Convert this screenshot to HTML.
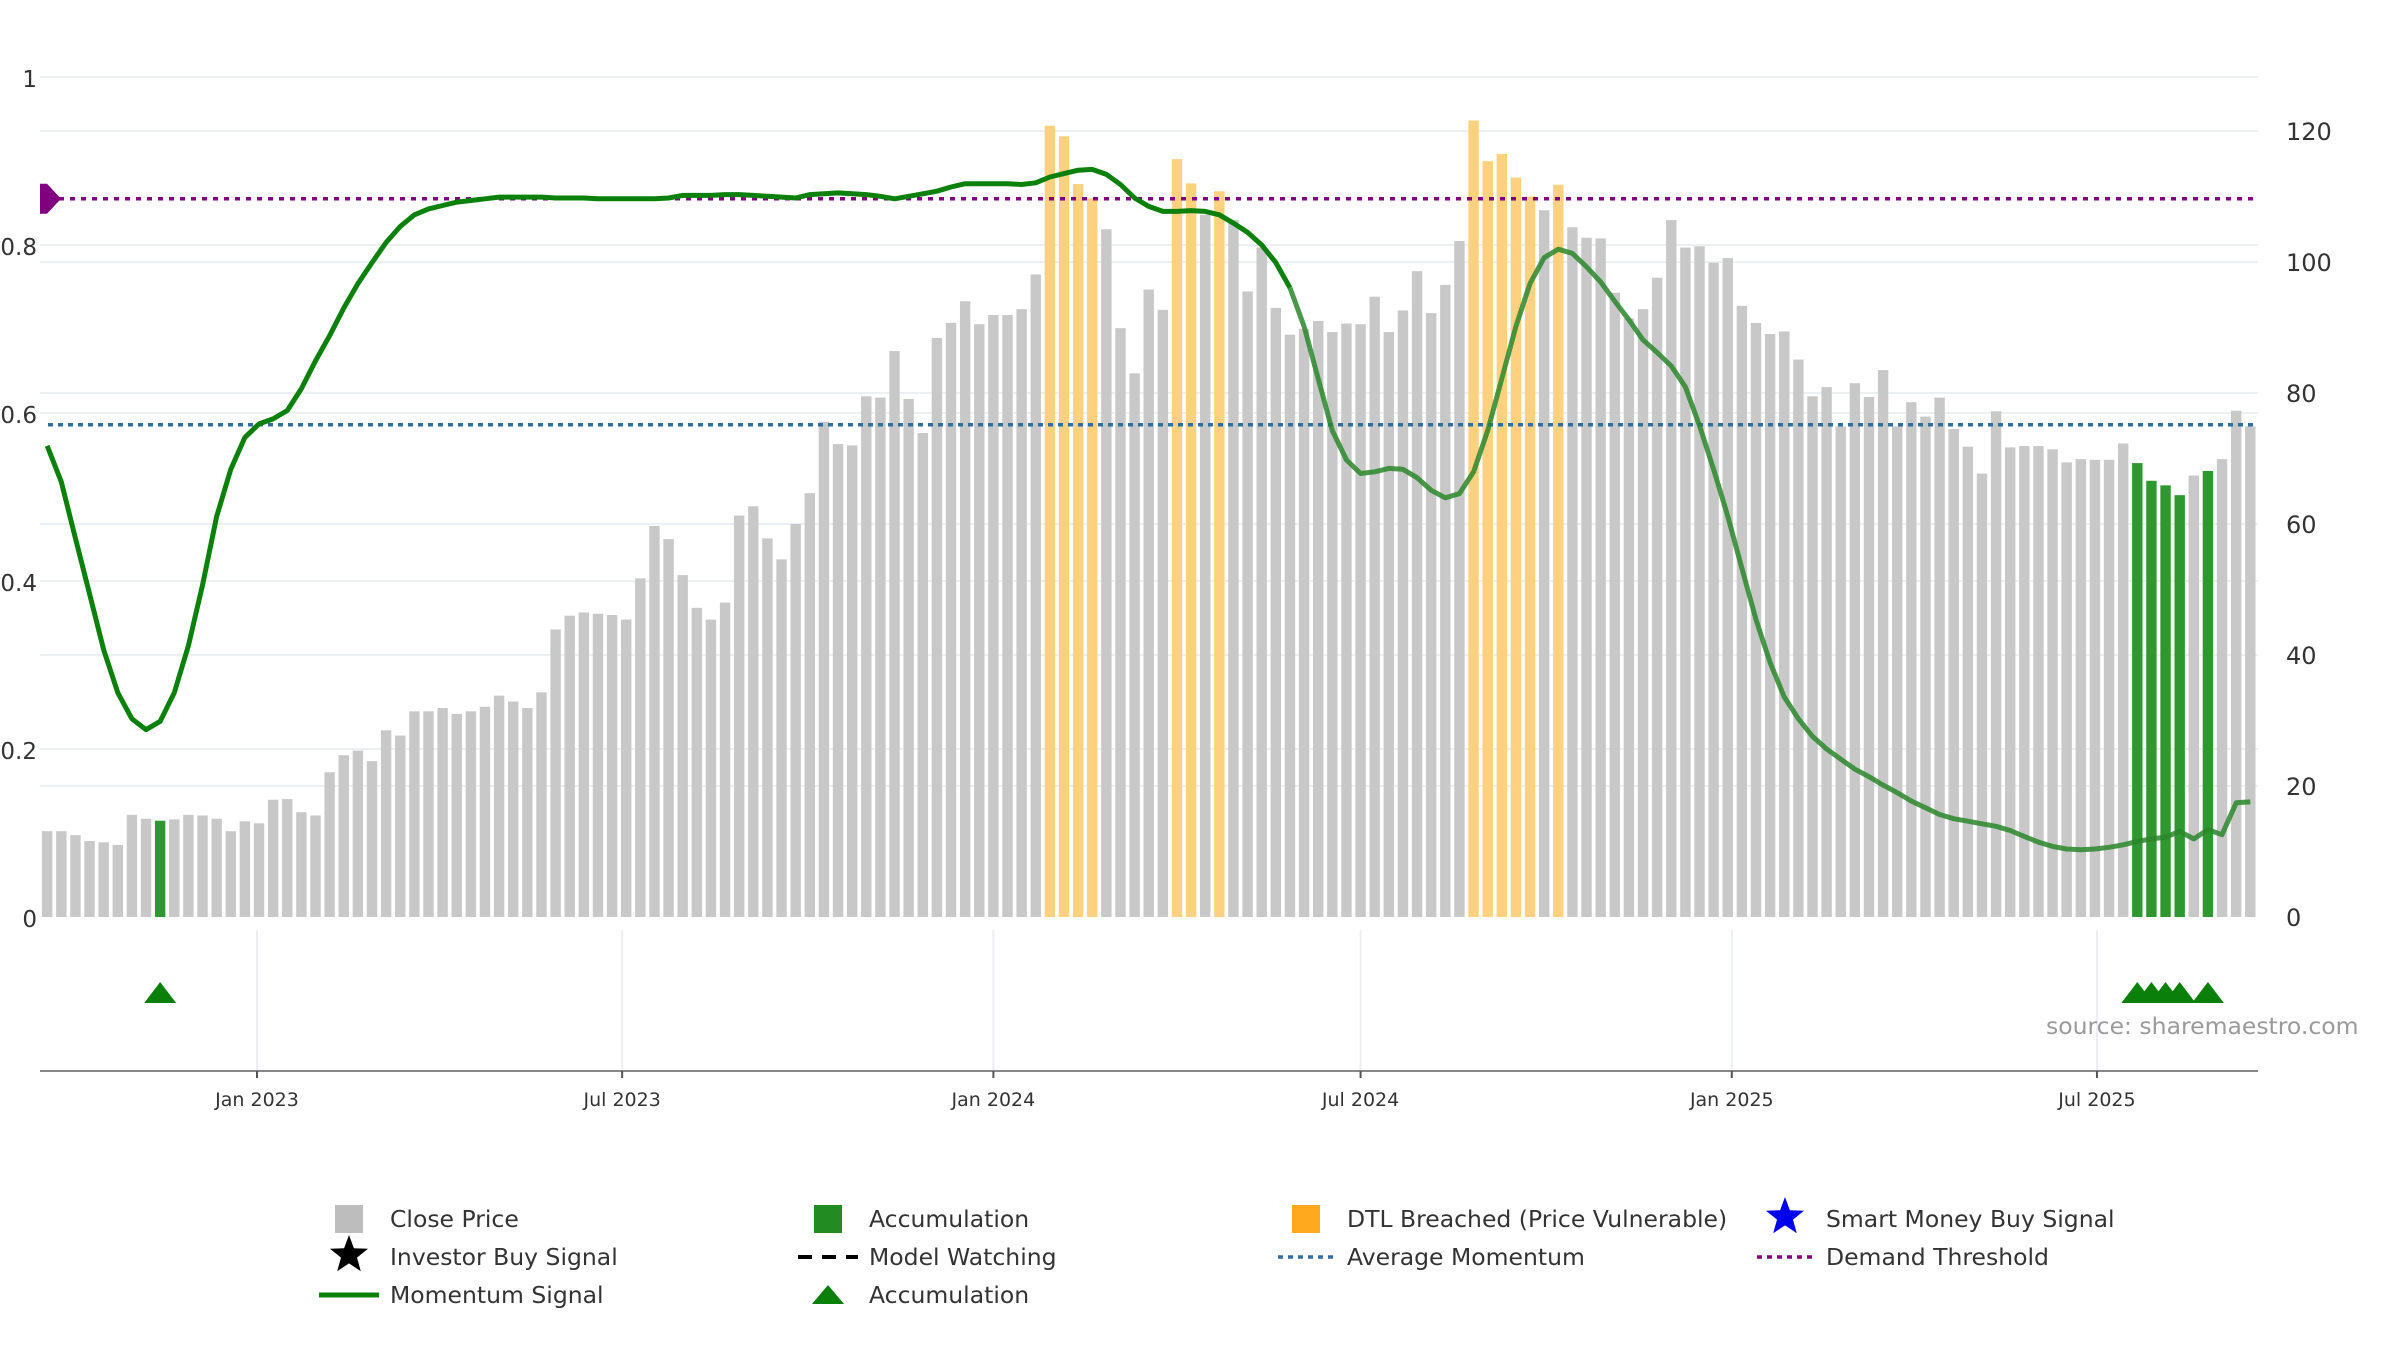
<!DOCTYPE html>
<html><head><meta charset="utf-8">
<style>
html,body{margin:0;padding:0;background:#fff;}
svg{display:block;font-family:"DejaVu Sans","Liberation Sans",sans-serif;}
</style></head>
<body>
<svg id="chart" width="2400" height="1350" viewBox="0 0 2400 1350" xmlns="http://www.w3.org/2000/svg">
<defs><clipPath id="plotclip"><rect x="40" y="60" width="2220" height="880"/></clipPath></defs>
<g id="grid"></g>
<g id="bars"></g>
<g id="lines" clip-path="url(#plotclip)"></g>
<g id="markers"></g>
<g id="axes"></g>
<text x="2046" y="1034" font-size="23.5" fill="#9a9a9a">source: sharemaestro.com</text>
<g id="legend"></g>
</svg>
<script>
// ---- data ----
const startDate = "2022-09-19";
const closePrices = [13.1,13.1,12.5,11.6,11.4,11.0,15.6,15.0,14.7,14.9,15.6,15.5,15.0,13.1,14.6,14.3,17.9,18.0,16.0,15.5,
22.1,24.7,25.4,23.8,28.5,27.7,31.4,31.4,31.9,31.0,31.4,32.1,33.8,32.9,31.9,34.3,43.9,46.0,46.5,46.3,
46.1,45.4,51.7,59.7,57.7,52.2,47.2,45.4,48.0,61.3,62.7,57.8,54.6,60.0,64.7,75.6,72.2,72.0,79.5,79.3,
86.4,79.1,73.9,88.4,90.7,94.0,90.5,91.9,91.9,92.8,98.1,120.8,119.2,111.9,109.7,105.0,89.9,83.0,95.8,92.7,
115.7,112.0,107.2,110.8,106.4,95.5,102.2,93.0,88.9,89.8,91.0,89.3,90.6,90.5,94.7,89.3,92.6,98.6,92.2,96.5,
103.2,121.6,115.4,116.5,112.9,110.0,107.9,111.8,105.3,103.7,103.6,95.3,91.4,92.8,97.6,106.4,102.2,102.4,99.9,100.6,
93.3,90.7,89.0,89.4,85.1,79.5,80.9,74.9,81.5,79.4,83.5,74.9,78.6,76.4,79.3,74.5,71.8,67.7,77.2,71.7,
71.9,71.9,71.4,69.4,69.9,69.8,69.8,72.3,69.3,66.6,65.9,64.4,67.4,68.1,69.9,77.3,74.9];
const dtlBreachedIdx = [71,72,73,74,80,81,83,101,102,103,104,105,107];
const accumulationIdx = [8,148,149,150,151,153];
const momentum = [0.561,0.518,0.451,0.385,0.318,0.267,0.236,0.223,0.233,0.267,0.323,0.395,0.477,0.533,0.571,0.587,0.593,0.603,0.629,0.662,
0.692,0.725,0.754,0.779,0.803,0.822,0.836,0.843,0.847,0.851,0.853,0.855,0.857,0.857,0.857,0.857,0.856,0.856,0.856,0.855,
0.855,0.855,0.855,0.855,0.856,0.859,0.859,0.859,0.860,0.860,0.859,0.858,0.857,0.856,0.860,0.861,0.862,0.861,0.860,0.858,
0.855,0.858,0.861,0.864,0.869,0.873,0.873,0.873,0.873,0.872,0.874,0.881,0.885,0.889,0.890,0.884,0.872,0.856,0.846,0.840,
0.840,0.841,0.840,0.836,0.826,0.815,0.800,0.779,0.749,0.703,0.641,0.579,0.544,0.528,0.530,0.534,0.533,0.523,0.508,0.499,
0.504,0.530,0.579,0.641,0.703,0.754,0.785,0.795,0.790,0.774,0.756,0.733,0.711,0.687,0.672,0.656,0.631,0.585,0.533,0.477,
0.415,0.354,0.303,0.262,0.236,0.215,0.200,0.188,0.176,0.167,0.157,0.148,0.138,0.130,0.122,0.117,0.114,0.111,0.108,0.103,
0.096,0.089,0.084,0.081,0.080,0.081,0.083,0.086,0.090,0.093,0.095,0.102,0.093,0.104,0.098,0.136,0.137];
const demandThreshold = 0.855;
const averageMomentum = 0.586;
const leftTicks = [0,0.2,0.4,0.6,0.8,1];
const leftTickLabels = ["0","0.2","0.4","0.6","0.8","1"];
const rightTicks = [0,20,40,60,80,100,120];
const xTickDates = ["2023-01-01","2023-07-01","2024-01-01","2024-07-01","2025-01-01","2025-07-01"];
const xTickLabels = ["Jan 2023","Jul 2023","Jan 2024","Jul 2024","Jan 2025","Jul 2025"];

// ---- scales ----
const NS="http://www.w3.org/2000/svg";
const DAY=86400000, REF=Date.parse("2023-01-01");
const PLOT_L=40, PLOT_R=2258, Y0=917, AXIS_Y=1071;
const xDate = d => 257 + (Date.parse(d)-REF)/DAY*2.0175;
const xBar = i => 257 + (Date.parse(startDate)+i*7*DAY-REF)/DAY*2.0175;
const yL = v => Y0 - v*840;
const yR = v => Y0 - v*6.55;
function el(tag, attrs, parent){const e=document.createElementNS(NS,tag);for(const k in attrs)e.setAttribute(k,attrs[k]);parent.appendChild(e);return e;}

const grid=document.getElementById('grid');
leftTicks.forEach(t=>{ if(t>0){const l=el('line',{x1:PLOT_L,x2:PLOT_R,y1:yL(t),y2:yL(t),stroke:'#edf0f3','stroke-width':2},grid);

}});
rightTicks.forEach(t=>{ if(t>0){const l=el('line',{x1:PLOT_L,x2:PLOT_R,y1:yR(t),y2:yR(t),stroke:'#edf0f3','stroke-width':2},grid);

}});
xTickDates.forEach(d=>{const l=el('line',{x1:xDate(d),x2:xDate(d),y1:930,y2:AXIS_Y,stroke:'#eceef1','stroke-width':2},grid);

});

const bars=document.getElementById('bars');
closePrices.forEach((v,i)=>{
  let fill='#c8c8c8', name='close-price-bar';
  if(dtlBreachedIdx.includes(i)){fill='#fdd17f';name='dtl-breached-bar';}
  if(accumulationIdx.includes(i)){fill='#2f972f';name='accumulation-bar';}
  const r=el('rect',{x:xBar(i)-5.2,y:yR(v),width:10.4,height:Y0-yR(v),fill:fill},bars);
  
  
});

const lines=document.getElementById('lines');
const dl=el('line',{x1:48,x2:PLOT_R,y1:yL(demandThreshold),y2:yL(demandThreshold),stroke:'#800080','stroke-width':3.5,'stroke-dasharray':'5 6'},lines);


const al=el('line',{x1:48,x2:PLOT_R,y1:yL(averageMomentum),y2:yL(averageMomentum),stroke:'#2f6f9f','stroke-width':3.5,'stroke-dasharray':'5 5'},lines);


const SPLIT=88;
const pts1=momentum.slice(0,SPLIT+1).map((v,i)=>xBar(i).toFixed(1)+','+yL(v).toFixed(1)).join(' ');
const pts2=momentum.slice(SPLIT).map((v,i)=>xBar(i+SPLIT).toFixed(1)+','+yL(v).toFixed(1)).join(' ');
const ml=el('polyline',{points:pts1,fill:'none',stroke:'#0b800b','stroke-width':5,'stroke-linejoin':'round'},lines);


const ml2=el('polyline',{points:pts2,fill:'none',stroke:'#2a862a','stroke-opacity':0.85,'stroke-width':5,'stroke-linejoin':'round'},lines);


const dy=yL(demandThreshold);
const dm=el('polygon',{points:`40,${dy-15} 47,${dy-15} 61,${dy} 47,${dy+15} 40,${dy+15}`,fill:'#800080'},lines);



const markers=document.getElementById('markers');
accumulationIdx.forEach(i=>{const x=xBar(i);
  const t=el('polygon',{points:`${x-16},1003 ${x},982 ${x+16},1003`,fill:'#0a800a'},markers);
  
  });

const axes=document.getElementById('axes');
const ax=el('line',{x1:PLOT_L,x2:PLOT_R,y1:AXIS_Y,y2:AXIS_Y,stroke:'#888','stroke-width':2},axes);


xTickDates.forEach((d,k)=>{const x=xDate(d);
  const tk=el('line',{x1:x,x2:x,y1:AXIS_Y,y2:AXIS_Y+7,stroke:'#555','stroke-width':2},axes);
  
  
  const tx=el('text',{x:x,y:1106,'font-size':19,fill:'#333','text-anchor':'middle'},axes);
  tx.textContent=xTickLabels[k];
  
  });
leftTicks.forEach((t,k)=>{const tx=el('text',{x:37,y:yL(t)+10,'font-size':23,fill:'#333','text-anchor':'end'},axes);
  tx.textContent=leftTickLabels[k];
  
  });
rightTicks.forEach(t=>{const tx=el('text',{x:2286,y:yR(t)+9,'font-size':24,fill:'#333'},axes);
  tx.textContent=String(t);
  
  });

// legend
const lg=document.getElementById('legend');
const star=(cx,cy,r,fill)=>{let p=[];for(let k=0;k<10;k++){const a=-Math.PI/2+k*Math.PI/5;const rr=k%2?r*0.42:r;p.push((cx+rr*Math.cos(a)).toFixed(1)+','+(cy+rr*Math.sin(a)).toFixed(1));}return el('polygon',{points:p.join(' '),fill:fill},lg);};
const items=[
 [349,1219,'Close Price','sq','#bdbdbd'],[349,1257,'Investor Buy Signal','star','#000'],[349,1295,'Momentum Signal','line','#0b800b'],
 [828,1219,'Accumulation','sq','#228b22'],[828,1257,'Model Watching','dash','#000'],[828,1295,'Accumulation','tri','#0a800a'],
 [1306,1219,'DTL Breached (Price Vulnerable)','sq','#ffa91f'],[1306,1257,'Average Momentum','dot','#2f6f9f'],
 [1785,1219,'Smart Money Buy Signal','star','#0000ee'],[1785,1257,'Demand Threshold','dot','#800080']];
items.forEach(([cx,cy,label,kind,col])=>{
  let s;
  if(kind==='sq') s=el('rect',{x:cx-14,y:cy-14,width:28,height:28,fill:col},lg);
  else if(kind==='star') s=star(cx,cy-2,20,col);
  else if(kind==='line') s=el('line',{x1:cx-30,x2:cx+30,y1:cy,y2:cy,stroke:col,'stroke-width':5},lg);
  else if(kind==='dash') s=el('line',{x1:cx-30,x2:cx+30,y1:cy,y2:cy,stroke:col,'stroke-width':4,'stroke-dasharray':'14 10'},lg);
  else if(kind==='dot') s=el('line',{x1:cx-28,x2:cx+28,y1:cy,y2:cy,stroke:col,'stroke-width':3.5,'stroke-dasharray':'5 5'},lg);
  else s=el('polygon',{points:`${cx-16},${cy+9} ${cx},${cy-10} ${cx+16},${cy+9}`,fill:col},lg);
  
  
  const t=el('text',{x:cx+41,y:cy+8,'font-size':23.5,fill:'#333'},lg);
  t.textContent=label;
  
  
});
</script>
</body></html>
